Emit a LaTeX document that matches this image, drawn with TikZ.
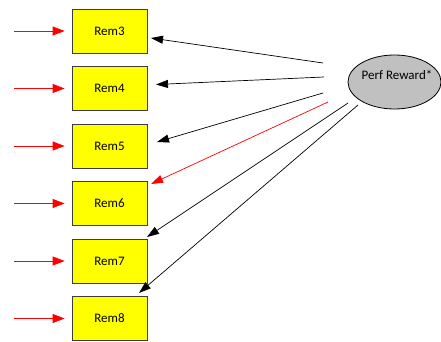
\documentclass[tikz,border=0pt]{standalone}
\usepackage{fontspec}
\setmainfont{Carlito}
\usetikzlibrary{shapes.geometric,arrows.meta}
\definecolor{boxyellow}{RGB}{255,255,0}
\definecolor{boxedge}{RGB}{60,60,60}
\definecolor{ovalgray}{RGB}{192,192,192}
\tikzset{
  rembox/.style={draw=boxedge, line width=0.8pt, fill=boxyellow, minimum width=75pt, minimum height=44pt, inner sep=0pt, font=\fontsize{13}{15}\selectfont},
  oval/.style={ellipse, draw=black, line width=0.8pt, fill=ovalgray, minimum width=93pt, minimum height=54pt, inner sep=0pt},
  redin/.style={draw=red, line width=0.8pt, -{Triangle[length=12pt,width=9pt]}, shorten >=7pt},
  blk/.style={draw=black, line width=0.7pt, -{Triangle[length=12pt,width=8pt]}},
  redout/.style={draw=red, line width=0.7pt, -{Triangle[length=12pt,width=8pt]}}
}
\begin{document}
\begin{tikzpicture}[x=1pt,y=-1pt]
\useasboundingbox (0,0) rectangle (441,342);
% boxes
\node[rembox] (r3) at (109.5,31) {Rem3};
\node[rembox] (r4) at (109.5,88.5) {Rem4};
\node[rembox] (r5) at (109.5,146) {Rem5};
\node[rembox] (r6) at (109.5,203.5) {Rem6};
\node[rembox] (r7) at (109.5,261) {Rem7};
\node[rembox] (r8) at (109.5,318.5) {Rem8};
% ellipse
\node[oval] (pr) at (394.5,82) {};
\node[font=\fontsize{13}{15}\selectfont, inner sep=0pt] (prt) at (397,75) {Perf Reward*};
% left red arrows
\foreach \n/\y in {3/31,4/88.5,5/146,6/203.5,7/261,8/318.5}{
  \coordinate (s\n) at (14,\y);
  \draw[redin] (s\n) -- (r\n.west);
}
% arrow start and tip coordinates
\coordinate (a3) at (323,63);  \coordinate (t3) at (151,38);
\coordinate (a4) at (324,77);  \coordinate (t4) at (156,84.5);
\coordinate (a5) at (323,93);  \coordinate (t5) at (157,142);
\coordinate (a6) at (328,102); \coordinate (t6) at (151,184);
\coordinate (a7) at (348,103); \coordinate (t7) at (147,237);
\coordinate (a8) at (358,105); \coordinate (t8) at (139,293);
\draw[blk] (a3) -- (t3);
\draw[blk] (a4) -- (t4);
\draw[blk] (a5) -- (t5);
\draw[redout] (a6) -- (t6);
\draw[blk] (a7) -- (t7);
\draw[blk] (a8) -- (t8);
\end{tikzpicture}
\end{document}
